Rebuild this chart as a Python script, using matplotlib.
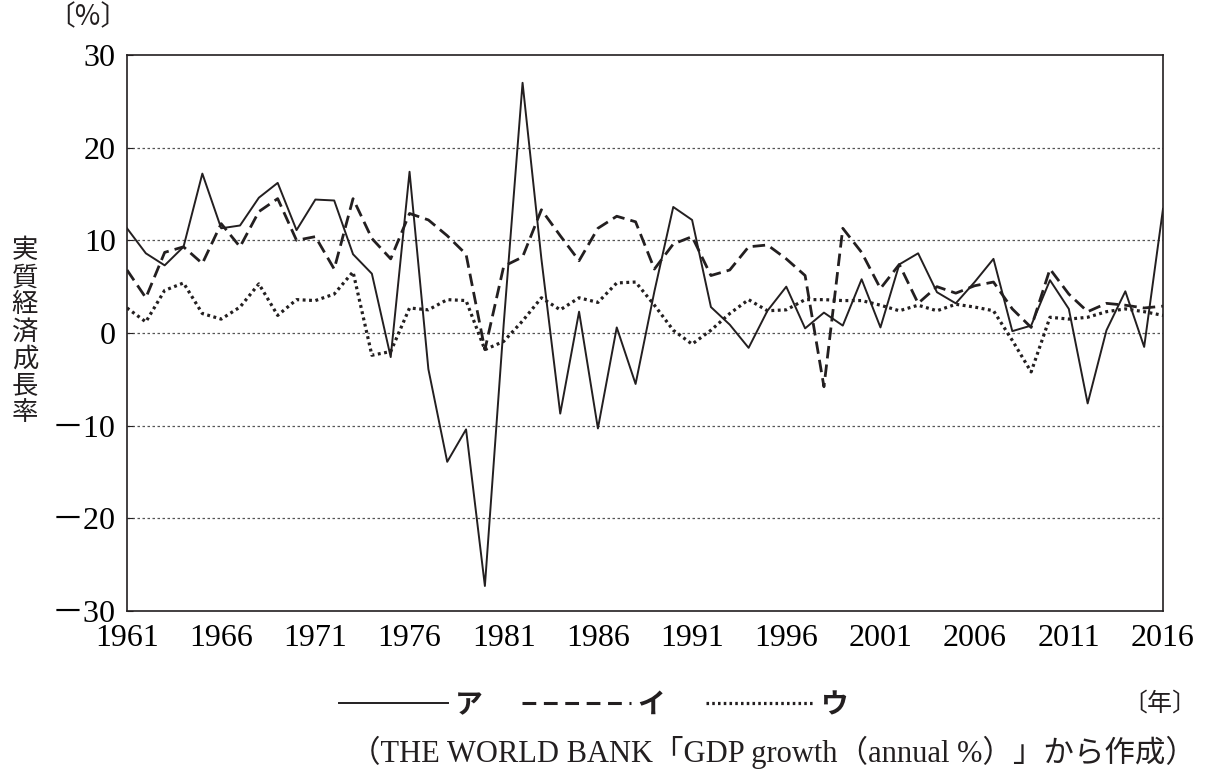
import matplotlib
matplotlib.use("Agg")
import matplotlib.pyplot as plt
from matplotlib.lines import Line2D

plt.rcParams['font.family'] = ['Liberation Serif', 'Noto Sans CJK JP']

years = list(range(1961, 2017))

# ア (solid)
a_vals = [11.3, 8.6, 7.3, 9.3, 17.2, 11.3, 11.6, 14.6, 16.2, 11.1,
          14.4, 14.3, 8.5, 6.4, -2.6, 17.4, -3.9, -13.9, -10.4, -27.3,
          1.0, 27.0, 8.0, -8.7, 2.3, -10.3, 0.6, -5.5, 4.5, 13.6,
          12.2, 2.8, 0.9, -1.6, 2.4, 5.0, 0.5, 2.2, 0.8, 5.8,
          0.6, 7.4, 8.6, 4.4, 3.2, 5.5, 8.0, 0.2, 0.8, 5.7,
          2.6, -7.6, 0.3, 4.5, -1.5, 13.4]
# イ (dashed)
i_vals = [6.8, 3.8, 8.7, 9.3, 7.5, 11.8, 9.3, 13.1, 14.5, 10.0,
          10.4, 6.9, 14.5, 10.2, 8.0, 12.9, 12.2, 10.5, 8.5, -1.8,
          7.2, 8.2, 13.3, 10.5, 7.8, 11.3, 12.6, 12.0, 6.9, 9.6,
          10.4, 6.2, 6.8, 9.3, 9.5, 8.0, 6.2, -5.8, 11.3, 8.7,
          4.8, 7.4, 3.2, 5.0, 4.3, 5.1, 5.5, 2.6, 0.6, 6.9,
          4.2, 2.3, 3.2, 3.0, 2.7, 2.9]
# ウ (dotted)
u_vals = [2.7, 1.2, 4.6, 5.4, 2.1, 1.5, 2.8, 5.3, 1.9, 3.6,
          3.5, 4.2, 6.6, -2.4, -2.0, 2.7, 2.5, 3.6, 3.5, -1.8,
          -0.9, 1.3, 3.8, 2.5, 3.8, 3.3, 5.4, 5.5, 3.0, 0.3,
          -1.2, 0.3, 2.1, 3.6, 2.4, 2.5, 3.6, 3.6, 3.5, 3.5,
          3.0, 2.4, 3.0, 2.4, 3.1, 2.8, 2.4, -0.8, -4.2, 1.7,
          1.5, 1.7, 2.3, 2.6, 2.3, 1.9]

xticks = list(range(1961, 2017, 5))
yticks = [-30, -20, -10, 0, 10, 20, 30]
ylabels = ['－30', '－20', '－10', '0', '10', '20', '30']

ink = '#231f20'

fig = plt.figure(figsize=(12.12, 7.74), dpi=100)
ax = fig.add_axes([127/1212, 1 - 611/774, (1163-127)/1212, (611-55)/774])

for y in [-20, -10, 0, 10, 20]:
    ax.axhline(y, color='#555555', lw=0.9, ls=(0, (2, 2)), zorder=1)

ax.plot(years, a_vals, color=ink, lw=1.4, zorder=3)
ax.plot(years, i_vals, color=ink, lw=2.0, ls=(0, (4.5, 2.2)), zorder=3)
ax.plot(years, u_vals, color=ink, lw=2.3, ls=(0, (0.9, 1.1)), zorder=3)

ax.set_xlim(1961, 2016)
ax.set_ylim(-30, 30)
ax.set_xticks(xticks)
ax.set_xticklabels([str(x) for x in xticks], fontsize=23)
ax.set_yticks(yticks)
ax.set_yticklabels(ylabels, fontsize=23)
ax.tick_params(axis='x', length=0, pad=9)
ax.tick_params(axis='y', direction='in', length=4, pad=8, color=ink)
for s in ax.spines.values():
    s.set_color(ink)
    s.set_linewidth(1.2)

fig.text(25/1212, 1 - 332/774, '\n'.join('実質経済成長率'), ha='center', va='center',
         fontsize=19, family='Noto Sans CJK JP', linespacing=1.0, color=ink)
fig.text(88/1212, 1 - 17/774, '〔%〕', ha='center', va='center', fontsize=20,
         family=['Noto Sans CJK JP'], color=ink)
fig.text(1160/1212, 1 - 704/774, '〔年〕', ha='center', va='center', fontsize=18,
         family=['Noto Sans CJK JP'], color=ink)
fig.text(1196/1212, 1 - 752/774,
         '（THE WORLD BANK「GDP growth（annual %）」から作成）',
         ha='right', va='center', fontsize=22, color=ink)

handles = [Line2D([], [], color=ink, lw=1.4),
           Line2D([], [], color=ink, lw=2.2, ls=(0, (4.5, 2.5))),
           Line2D([], [], color=ink, lw=2.3, ls=(0, (0.8, 1.0)))]
leg = fig.legend(handles, ['ア', 'イ', 'ウ'], loc='center', ncol=3,
                 bbox_to_anchor=(594/1212, 1 - 705/774), frameon=False,
                 handlelength=3.9, handletextpad=0.25, columnspacing=1.45,
                 prop={'family': 'Noto Sans CJK JP', 'weight': 'bold', 'size': 20})
for t in leg.get_texts():
    t.set_color(ink)

fig.savefig('out.png', dpi=100)
